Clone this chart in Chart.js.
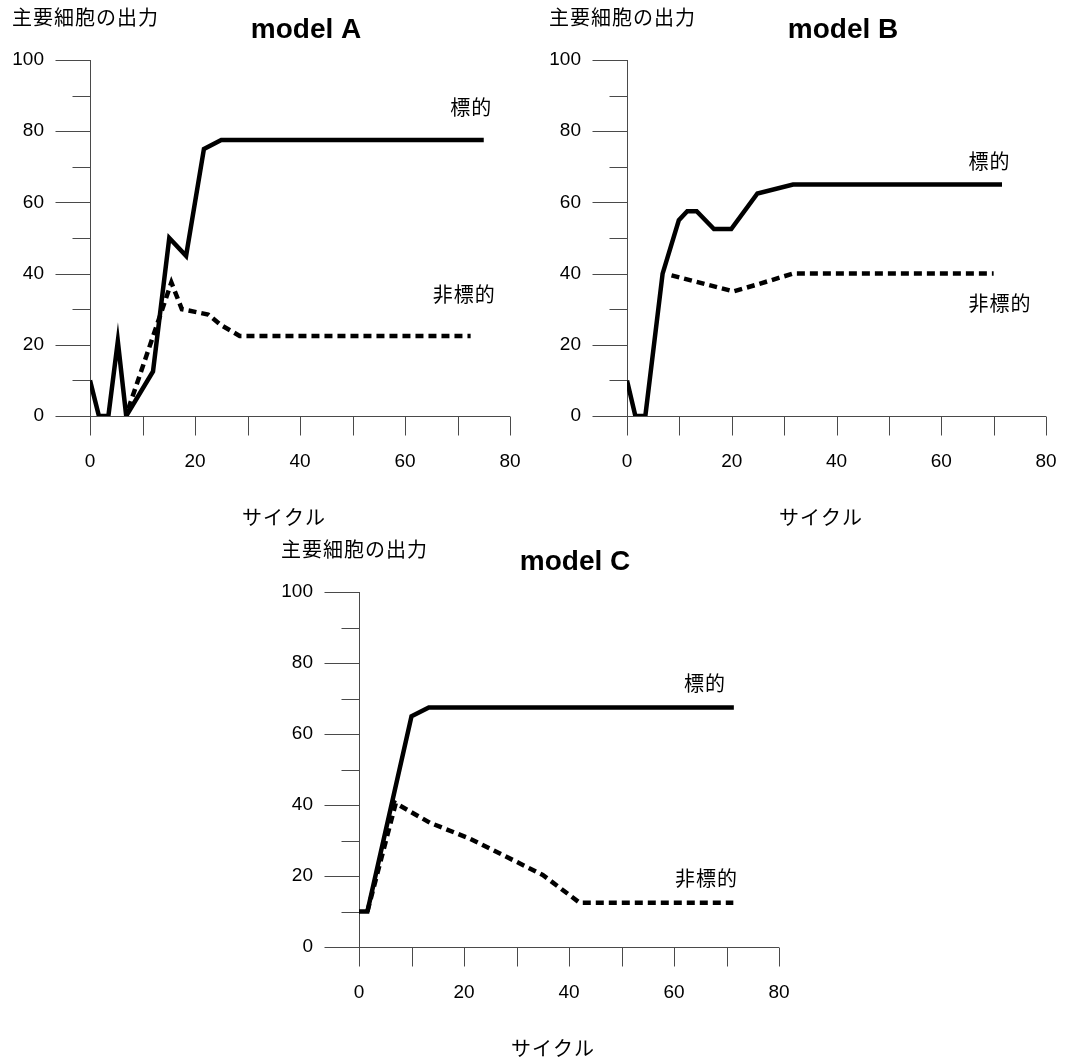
<!DOCTYPE html>
<html>
<head>
<meta charset="utf-8">
<script src="https://cdn.jsdelivr.net/npm/chart.js@4.4.1/dist/chart.umd.min.js"></script>
<style>
  body { margin: 0; background: #fff; width: 1073px; height: 1061px; overflow: hidden; position: relative; }
  canvas { position: absolute; }
</style>
</head>
<body>
<canvas id="chartA" width="540" height="540" style="left:0px;top:0px"></canvas>
<canvas id="chartB" width="536" height="540" style="left:537px;top:0px"></canvas>
<canvas id="chartC" width="540" height="529" style="left:269px;top:532px"></canvas>
<script>
// ---- data ----
const xTicks = [0, 20, 40, 60, 80];
const yTicks = [0, 20, 40, 60, 80, 100];

// model A
const cycleA_target = [0, 1.7, 3.5, 5.3, 6.9, 12, 15.1, 18.3, 21.7, 25, 75];
const outA_target   = [10, 0, 0, 21, 0, 12.5, 50, 45, 75, 77.5, 77.5];
const cycleA_non    = [7.3, 15.5, 17.5, 22.5, 25, 28.5, 72.5];
const outA_non      = [2, 37.5, 30, 28.5, 25.5, 22.5, 22.5];

// model B
const cycleB_target = [0, 1.6, 3.5, 6.8, 9.9, 11.5, 13.3, 16.6, 19.9, 24.9, 31.7, 71.6];
const outB_target   = [10, 0, 0, 40, 55, 57.5, 57.5, 52.5, 52.5, 62.5, 65, 65];
const cycleB_non    = [8.5, 20.3, 25, 31.7, 70];
const outB_non      = [39.5, 35, 37, 40, 40];

// model C
const cycleC_target = [0, 1.6, 10, 13.3, 71.4];
const outC_target   = [10, 10, 65, 67.5, 67.5];
const cycleC_non    = [1.6, 7, 13.5, 21, 30, 35, 42, 71.3];
const outC_non      = [10, 40.5, 35, 30.6, 24, 20.3, 12.5, 12.5];

const Y_TITLE = '主要細胞の出力';
const X_TITLE = 'サイクル';
const LABEL_TARGET = '標的';
const LABEL_NON = '非標的';

const JP_FONT = '"Noto Sans CJK JP", "Noto Sans", sans-serif';
const NUM_FONT = '"Liberation Sans", Arial, sans-serif';

function toPoints(xs, ys) {
    return xs.map((x, i) => ({ x: x, y: ys[i] }));
}

// axes drawn by hand: long ticks on every 20, short ones between
const plainAxes = {
    id: 'plainAxes',
    beforeDatasetsDraw(chart) {
        const { ctx, scales: { x, y } } = chart;
        const x0 = Math.round(x.getPixelForValue(0)) + 0.5;
        const y0 = Math.round(y.getPixelForValue(0)) + 0.5;
        ctx.save();
        ctx.strokeStyle = '#4a4a4a';
        ctx.lineWidth = 1;
        ctx.beginPath();
        ctx.moveTo(x0, y.getPixelForValue(100));
        ctx.lineTo(x0, y0 + 19);
        ctx.moveTo(x0 - 35, y0);
        ctx.lineTo(x.getPixelForValue(80), y0);
        for (let v = 10; v <= 100; v += 10) {
            const py = Math.round(y.getPixelForValue(v)) + 0.5;
            ctx.moveTo(x0 - (v % 20 === 0 ? 35 : 18), py);
            ctx.lineTo(x0, py);
        }
        for (let v = 10; v <= 80; v += 10) {
            const px = Math.round(x.getPixelForValue(v)) + 0.5;
            ctx.moveTo(px, y0);
            ctx.lineTo(px, y0 + 19);
        }
        ctx.stroke();
        ctx.restore();
    },
    afterDraw(chart, args, opts) {
        const { ctx, chartArea: a, scales: { x, y } } = chart;
        ctx.save();
        ctx.fillStyle = '#000';
        ctx.textBaseline = 'alphabetic';

        // title
        ctx.font = 'bold 28px ' + NUM_FONT;
        ctx.textAlign = 'center';
        ctx.letterSpacing = '0px';
        ctx.fillText(opts.title, a.left + 216, a.top - 22);

        ctx.font = '20px ' + JP_FONT;
        ctx.letterSpacing = '1px';
        ctx.textAlign = 'left';
        ctx.fillText(Y_TITLE, a.left - 78, a.top - 35);
        ctx.textAlign = 'center';
        ctx.fillText(X_TITLE, a.left + 194, a.bottom + 109);

        ctx.textAlign = 'left';
        ctx.fillText(LABEL_TARGET, x.getPixelForValue(opts.targetAt[0]), y.getPixelForValue(opts.targetAt[1]));
        ctx.fillText(LABEL_NON, x.getPixelForValue(opts.nonAt[0]), y.getPixelForValue(opts.nonAt[1]));
        ctx.restore();
    }
};

function makeChart(id, cfg) {
    const canvas = document.getElementById(id);
    return new Chart(canvas, {
        type: 'line',
        data: {
            datasets: [
                {
                    label: LABEL_NON,
                    data: toPoints(cfg.nonX, cfg.nonY),
                    borderColor: '#000',
                    borderWidth: 4.5,
                    borderDash: [8, 5],
                    borderCapStyle: 'butt',
                    pointRadius: 0,
                    tension: 0
                },
                {
                    label: LABEL_TARGET,
                    data: toPoints(cfg.targetX, cfg.targetY),
                    borderColor: '#000',
                    borderWidth: 4.5,
                    borderJoinStyle: 'miter',
                    pointRadius: 0,
                    tension: 0
                }
            ]
        },
        options: {
            responsive: false,
            animation: false,
            devicePixelRatio: 1,
            layout: { padding: { top: 60, right: cfg.padRight, bottom: 0, left: 0 } },
            plugins: {
                legend: { display: false },
                tooltip: { enabled: false },
                plainAxes: { title: cfg.title, targetAt: cfg.targetAt, nonAt: cfg.nonAt }
            },
            scales: {
                x: {
                    type: 'linear',
                    min: 0,
                    max: 80,
                    afterBuildTicks: s => { s.ticks = xTicks.map(v => ({ value: v })); },
                    ticks: { color: '#000', font: { size: 19, family: NUM_FONT }, padding: 34, maxRotation: 0 },
                    grid: { display: false, drawTicks: false },
                    border: { display: false },
                    afterFit: s => { s.height = cfg.xHeight; s.paddingLeft = 0; s.paddingRight = 0; }
                },
                y: {
                    min: 0,
                    max: 100,
                    afterBuildTicks: s => { s.ticks = yTicks.map(v => ({ value: v })); },
                    ticks: { color: '#000', font: { size: 19, family: NUM_FONT }, padding: 46 },
                    grid: { display: false, drawTicks: false },
                    border: { display: false },
                    afterFit: s => { s.width = 90; }
                }
            }
        },
        plugins: [plainAxes]
    });
}

makeChart('chartA', {
    title: 'model A',
    targetX: cycleA_target, targetY: outA_target,
    nonX: cycleA_non, nonY: outA_non,
    targetAt: [68.6, 84.5], nonAt: [65.3, 32],
    padRight: 30, xHeight: 124
});

makeChart('chartB', {
    title: 'model B',
    targetX: cycleB_target, targetY: outB_target,
    nonX: cycleB_non, nonY: outB_non,
    targetAt: [65.2, 69.4], nonAt: [65.2, 29.5],
    padRight: 27, xHeight: 124
});

makeChart('chartC', {
    title: 'model C',
    targetX: cycleC_target, targetY: outC_target,
    nonX: cycleC_non, nonY: outC_non,
    targetAt: [61.9, 72], nonAt: [60.2, 17.1],
    padRight: 30, xHeight: 114
});
</script>
</body>
</html>
